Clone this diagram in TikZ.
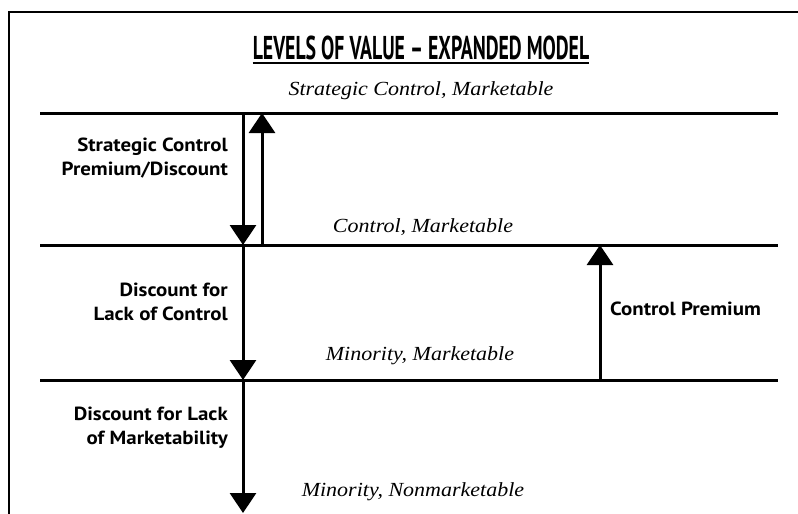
\documentclass[tikz,border=0pt]{standalone}
\usepackage{fontspec}
\setmainfont{Liberation Serif}[FakeStretch=1.1]
\setsansfont{PT Sans}[FakeStretch=1.1]
\newfontfamily\headfont{PT Sans}[FakeStretch=0.6]
\usetikzlibrary{arrows.meta,positioning}

\tikzset{
	level/.style={line width=3pt},
	valuearrow/.style={line width=3pt, -{Triangle[width=26pt,length=20pt]}},
	valuetxt/.style={inner sep=0pt, font=\itshape\fontsize{20}{22}\selectfont},
	adjtxt/.style={inner sep=0pt, anchor=east, align=right, font=\sffamily\bfseries\fontsize{19}{24}\selectfont}
}

\begin{document}
\begin{tikzpicture}[x=1pt, y=-1pt]
		\clip (0,0) rectangle (798,514);
		\draw[line width=2pt] (9,530)--(9,12)--(810,12);
		% heading
		\node[inner sep=0pt, anchor=base, font=\headfont\bfseries\fontsize{33}{33}\selectfont] (title) at (421,59) {LEVELS OF VALUE – EXPANDED MODEL};
		\draw[line width=2pt] ([yshift=-4pt]title.base west)--([yshift=-4pt]title.base east);
		% the three levels
		\coordinate (A) at (40,113);
		\coordinate (A') at (778,113);
		\coordinate (B) at (40,245);
		\coordinate (B') at (778,245);
		\coordinate (C) at (40,380);
		\coordinate (C') at (778,380);
		\draw[level] (A)--(A');
		\draw[level] (B)--(B');
		\draw[level] (C)--(C');
		% arrow ends
		\coordinate (sc1) at (243,113);
		\coordinate (sc2) at (243,245);
		\coordinate (su1) at (262,245);
		\coordinate (su2) at (262,113);
		\coordinate (mc) at (243,380);
		\coordinate (mn) at (243,513);
		\coordinate (cp1) at (600,380);
		\coordinate (cp2) at (600,245);
		\draw[valuearrow] (sc1)--(sc2);
		\draw[valuearrow] (su1)--(su2);
		\draw[valuearrow] (sc2)--(mc);
		\draw[valuearrow] (mc)--(mn);
		\draw[valuearrow] (cp1)--(cp2);
		% values
		\node[valuetxt] (vsc) at (421,91) {Strategic Control, Marketable};
		\node[valuetxt] (vc) at (423,227) {Control, Marketable};
		\node[valuetxt] (vm) at (420,356) {Minority, Marketable};
		\node[valuetxt] (vn) at (413,492) {Minority, Nonmarketable};
		% adjustments
		\node[adjtxt] (dsc) at (228,158) {Strategic Control\\Premium/Discount};
		\node[adjtxt] (dloc) at (228,302) {Discount for\\Lack of Control};
		\node[adjtxt] (dlom) at (228,428) {Discount for Lack\\of Marketability};
		\node[adjtxt, anchor=west] (cprem) at (610,309) {Control Premium};
	\end{tikzpicture}
\end{document}
